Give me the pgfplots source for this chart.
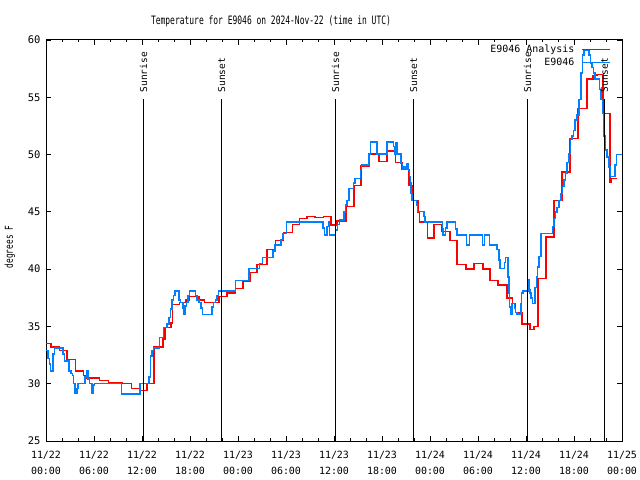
\documentclass[border=0pt]{standalone}
\usepackage{pgfplots}
\pgfplotsset{compat=1.18}
\usepackage{fontspec}
\setmainfont{DejaVu Sans Mono}
\definecolor{obsblue}{RGB}{0,128,255}
\begin{document}
\begin{tikzpicture}
\begin{axis}[
  at={(0,0)}, anchor=south west, scale only axis,
  width=576bp, height=401bp,
  xmin=0, xmax=72, ymin=25, ymax=60,
  xtick={0,6,...,72}, minor x tick num=2,
  xticklabels={{11/22\\00:00},{11/22\\06:00},{11/22\\12:00},{11/22\\18:00},
               {11/23\\00:00},{11/23\\06:00},{11/23\\12:00},{11/23\\18:00},
               {11/24\\00:00},{11/24\\06:00},{11/24\\12:00},{11/24\\18:00},
               {11/25\\00:00}},
  ytick={25,30,...,60},
  tick align=inside, major tick length=5bp, minor tick length=2.5bp,
  every tick/.style={black, line width=0.9bp},
  axis line style={line width=1bp},
  xticklabel style={align=center, font=\fontsize{10}{16}\selectfont, yshift=-6.5bp},
  yticklabel style={font=\fontsize{10.5}{12}\selectfont, xshift=-2bp},
  /pgf/number format/assume math mode=true,
  legend style={draw=none, fill=none, at={(0.981,0.993)}, anchor=north east,
    font=\fontsize{10}{12}\selectfont, row sep=0bp, inner sep=0pt,
    nodes={inner sep=2bp, text height=7bp, text depth=2bp},
    /tikz/every odd column/.append style={column sep=5bp}},
  legend plot pos=right, legend cell align=right,
  legend image code/.code={\draw[#1, line width=1.5bp] (0bp,0bp) -- (28bp,0bp);},
]
\addplot[const plot, red, line width=1.5bp] coordinates {
(0,33.5) (0.6,33.2) (1.7,32.9) (2.6,32.1) (3.7,31.1) (4.7,30.7) (5.0,30.5) (6.7,30.3) (7.8,30.1) (9.5,30.0) (10.7,29.6) (11.7,29.4) (12.6,30.0) (13.5,33.2) (14.6,33.9) (14.9,34.9) (15.6,35.3) (15.8,36.9) (16.7,37.1) (17.5,37.3) (17.9,37.6) (19.1,37.3) (19.8,37.1) (21.6,37.6) (22.6,37.9) (23.7,38.3) (24.6,38.9) (25.5,39.7) (26.4,40.4) (27.6,41.7) (28.7,42.5) (29.7,43.2) (30.8,43.9) (31.7,44.4) (32.6,44.6) (33.6,44.5) (34.7,44.6) (35.6,43.85) (36.4,44.2) (37.5,45.45) (38.5,47.3) (39.4,49.0) (40.4,50.05) (41.6,49.4) (42.6,50.3) (43.7,49.3) (44.5,48.7) (45.4,47.3) (45.8,46.0) (46.5,45.0) (46.7,44.1) (47.7,42.7) (48.5,43.9) (49.5,43.3) (50.5,42.5) (51.4,40.4) (52.5,40.0) (53.5,40.5) (54.6,40.0) (55.5,39.0) (56.5,38.6) (57.6,37.5) (58.3,37.0) (58.7,36.2) (59.5,35.2) (60.5,34.75) (61.0,35.0) (61.5,39.2) (62.5,42.8) (63.5,46.0) (64.5,48.5) (65.5,51.4) (66.5,54.0) (67.6,56.6) (68.4,56.9) (68.9,57.0) (69.6,53.6) (70.5,47.6) (70.7,47.9) (71.4,47.9)
};
\addlegendentry{E9046 Analysis}
\addplot[const plot, obsblue, line width=1.5bp] coordinates {
(0,32.9) (0.25,32.2) (0.45,31.7) (0.58,31.1) (0.9,32.6) (1.05,33.1) (2.15,32.6) (2.3,32.0) (2.9,31.1) (3.15,30.9) (3.3,30.7) (3.45,30.0) (3.65,29.2) (3.85,29.6) (4.0,30.0) (4.85,30.6) (5.05,31.1) (5.25,30.4) (5.45,30.0) (5.75,29.2) (5.9,29.9) (6.05,30.0) (9.45,29.1) (11.75,30.0) (12.85,30.6) (13.05,32.4) (13.25,32.9) (13.45,33.1) (14.2,34.05) (14.7,34.9) (15.1,35.2) (15.35,35.8) (15.55,36.5) (15.75,37.3) (15.95,37.7) (16.1,38.1) (16.6,37.3) (16.8,37.1) (17.1,36.6) (17.25,36.05) (17.4,36.8) (17.55,37.1) (17.75,37.7) (17.95,38.1) (18.7,37.7) (18.85,37.3) (19.1,37.1) (19.35,36.6) (19.55,36.05) (20.75,36.7) (20.95,37.1) (21.2,37.3) (21.4,37.7) (21.55,38.1) (23.7,39.0) (25.4,40.05) (26.7,40.5) (27.05,41.0) (28.4,41.6) (28.6,42.1) (29.4,42.6) (29.65,43.1) (30.05,44.1) (34.65,43.6) (34.8,43.0) (35.1,43.7) (35.3,44.1) (35.45,43.0) (36.2,43.4) (36.45,43.9) (36.7,44.3) (37.25,45.0) (37.45,45.6) (37.65,46.0) (37.85,47.05) (38.45,47.5) (38.65,47.9) (39.3,48.7) (39.45,49.1) (40.35,50.05) (40.55,51.1) (41.35,50.05) (42.65,51.1) (43.45,50.7) (43.6,50.05) (43.7,51.0) (43.85,50.05) (44.35,49.2) (44.55,48.7) (44.7,48.9) (44.85,48.7) (45.15,49.2) (45.3,48.6) (45.45,48.1) (45.55,47.5) (45.65,46.6) (45.75,46.0) (46.3,45.6) (46.45,45.05) (47.25,44.6) (47.4,44.1) (49.55,43.5) (49.65,43.0) (49.95,43.6) (50.1,44.1) (51.2,43.5) (51.35,43.0) (52.55,42.1) (52.95,43.0) (54.55,42.1) (54.8,43.0) (55.45,42.1) (56.4,41.7) (56.6,40.8) (56.75,40.05) (57.3,40.6) (57.45,41.0) (57.75,39.3) (57.85,37.9) (57.95,36.7) (58.05,36.1) (58.25,37.0) (58.55,36.6) (58.7,36.2) (58.85,36.1) (59.35,37.0) (59.45,37.9) (59.6,38.1) (60.25,39.05) (60.35,38.2) (60.5,37.9) (60.65,37.5) (60.8,37.0) (61.15,38.4) (61.3,39.3) (61.45,40.2) (61.65,41.1) (61.85,43.1) (63.3,43.7) (63.5,44.4) (63.7,45.0) (63.9,45.4) (64.1,46.0) (64.35,46.6) (64.55,47.2) (64.75,47.8) (64.95,48.4) (65.15,49.3) (65.35,50.1) (65.55,51.3) (65.75,51.6) (65.95,52.1) (66.15,53.0) (66.35,53.45) (66.6,54.8) (66.85,57.1) (67.05,58.7) (67.25,59.1) (67.85,58.7) (68.05,58.0) (68.25,57.6) (68.45,57.1) (68.65,56.6) (69.2,55.7) (69.35,54.8) (69.55,53.6) (69.75,51.6) (69.95,50.4) (70.15,49.8) (70.35,48.9) (70.55,48.1) (71.15,49.1) (71.3,50.0) (72,50.0)
};
\addlegendentry{E9046}
% sunrise / sunset markers
\addplot[black, line width=0.9bp, forget plot] coordinates {(12.125,25) (12.125,54.85)};
\addplot[black, line width=0.9bp, forget plot] coordinates {(21.875,25) (21.875,54.85)};
\addplot[black, line width=0.9bp, forget plot] coordinates {(36.125,25) (36.125,54.85)};
\addplot[black, line width=0.9bp, forget plot] coordinates {(45.875,25) (45.875,54.85)};
\addplot[black, line width=0.9bp, forget plot] coordinates {(60.125,25) (60.125,54.85)};
\addplot[black, line width=0.9bp, forget plot] coordinates {(69.75,25) (69.75,54.85)};
\node[rotate=90, anchor=west, inner sep=0pt, font=\fontsize{9.6}{10}\selectfont] at (axis cs:12.2,55.4) {Sunrise};
\node[rotate=90, anchor=west, inner sep=0pt, font=\fontsize{9.6}{10}\selectfont] at (axis cs:21.95,55.4) {Sunset};
\node[rotate=90, anchor=west, inner sep=0pt, font=\fontsize{9.6}{10}\selectfont] at (axis cs:36.2,55.4) {Sunrise};
\node[rotate=90, anchor=west, inner sep=0pt, font=\fontsize{9.6}{10}\selectfont] at (axis cs:45.95,55.4) {Sunset};
\node[rotate=90, anchor=west, inner sep=0pt, font=\fontsize{9.6}{10}\selectfont] at (axis cs:60.2,55.4) {Sunrise};
\node[rotate=90, anchor=west, inner sep=0pt, font=\fontsize{9.6}{10}\selectfont] at (axis cs:69.8,55.4) {Sunset};
\end{axis}
\node[font=\fontsize{8}{10}\selectfont] at (225bp,420bp) {\scalebox{1}[1.45]{Temperature for E9046 on 2024-Nov-22 (time in UTC)}};
\node[rotate=90, font=\fontsize{7.8}{10}\selectfont] at (-36bp,194bp) {\scalebox{1}[1.4]{degrees F}};
\pgfresetboundingbox
\path[use as bounding box] (-46bp,-39bp) rectangle (594bp,441bp);
\end{tikzpicture}
\end{document}
